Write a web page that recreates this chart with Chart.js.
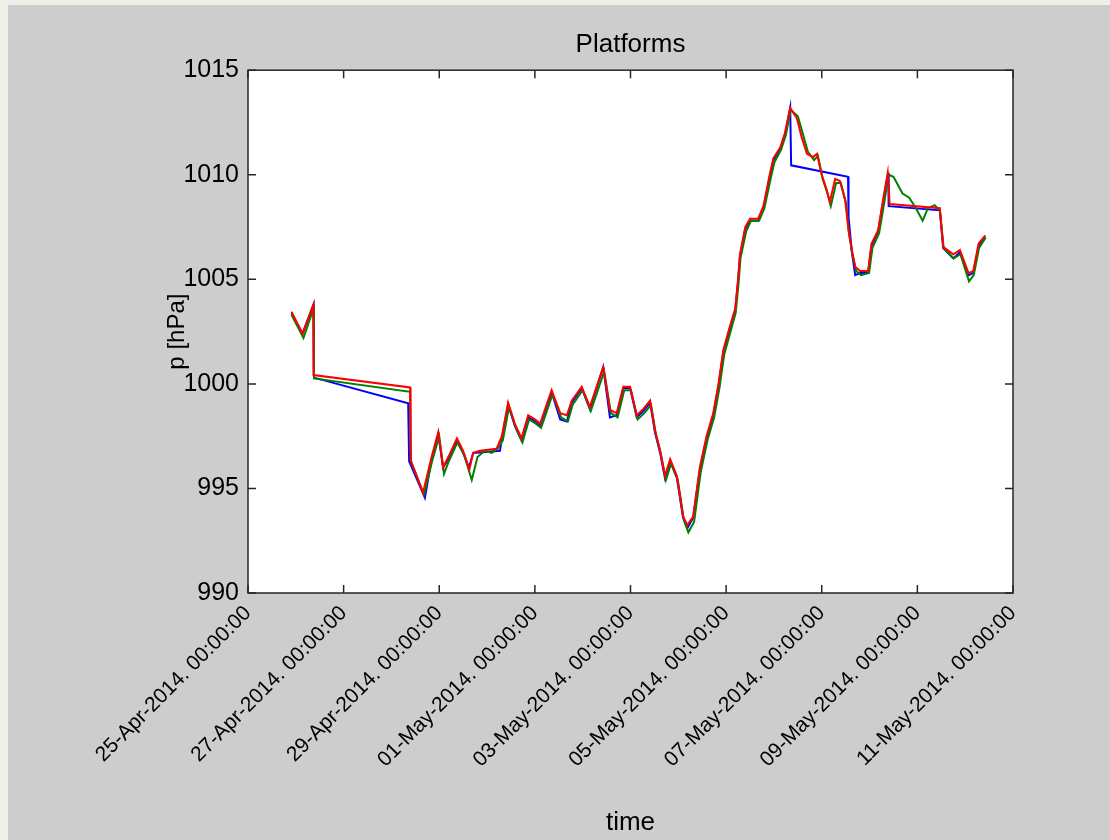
<!DOCTYPE html>
<html>
<head>
<meta charset="utf-8">
<title>Platforms</title>
<script src="https://cdn.jsdelivr.net/npm/chart.js@4.4.1/dist/chart.umd.min.js"></script>
<style>
  html, body { margin: 0; padding: 0; background: #eff1e9; }
  #wrap { position: absolute; left: 8px; top: 5px; width: 1102px; height: 835px; background: #cdcdcd; }
  canvas { display: block; }
</style>
</head>
<body>
<div id="wrap"><canvas id="pressure" width="1102" height="835"></canvas></div>
<script>
// time in days since 25-Apr-2014 00:00:00, pressure in hPa
const blueTime = [0.91,1.14,1.37,1.38,3.35,3.37,3.70,3.84,3.98,4.08,4.19,4.37,4.50,4.62,4.71,5.27,5.31,5.44,5.58,5.72,5.86,6.00,6.11,6.35,6.53,6.67,6.77,6.98,7.15,7.43,7.57,7.71,7.85,7.99,8.13,8.27,8.41,8.51,8.62,8.72,8.83,8.97,9.10,9.19,9.31,9.45,9.59,9.73,9.84,9.94,10.06,10.19,10.25,10.29,10.40,10.50,10.67,10.78,10.92,10.99,11.13,11.23,11.34,11.36,12.55,12.56,12.63,12.70,12.80,12.97,13.04,13.18,13.29,13.39,13.40,14.47,14.54,14.75,14.89,15.07,15.17,15.28,15.42];
const blueP = [1003.4,1002.4,1003.8,1000.3,999.07,996.3,994.55,996.4,997.6,996.0,996.4,997.3,996.7,996.0,996.7,996.8,997.4,999.0,998.0,997.3,998.4,998.2,998.0,999.6,998.3,998.2,999.1,999.8,998.8,1000.8,998.4,998.5,999.8,999.8,998.4,998.7,999.1,997.7,996.7,995.5,996.3,995.5,993.6,993.1,993.6,995.9,997.4,998.5,999.9,1001.5,1002.5,1003.5,1004.9,1006.1,1007.4,1007.8,1007.8,1008.4,1010.0,1010.7,1011.2,1011.9,1013.2,1010.45,1009.9,1008.0,1006.3,1005.2,1005.3,1005.3,1006.6,1007.3,1008.8,1010.1,1008.5,1008.3,1006.5,1006.0,1006.3,1005.2,1005.3,1006.6,1007.0];

const greenTime = [0.91,1.16,1.37,1.38,3.39,3.41,3.68,3.85,4.00,4.10,4.20,4.38,4.52,4.68,4.80,4.95,5.10,5.22,5.33,5.46,5.60,5.74,5.88,6.02,6.13,6.37,6.55,6.69,6.79,7.00,7.17,7.45,7.59,7.73,7.87,8.01,8.15,8.29,8.43,8.53,8.64,8.74,8.85,8.99,9.12,9.21,9.33,9.47,9.61,9.75,9.86,9.96,10.08,10.20,10.26,10.30,10.42,10.52,10.69,10.80,10.94,11.01,11.15,11.25,11.35,11.50,11.60,11.71,11.84,11.92,12.02,12.12,12.19,12.30,12.40,12.51,12.57,12.64,12.72,12.82,12.99,13.06,13.20,13.31,13.40,13.50,13.69,13.83,13.97,14.11,14.22,14.36,14.47,14.55,14.76,14.90,15.08,15.18,15.29,15.43];
const greenP = [1003.3,1002.2,1003.6,1000.26,999.62,996.3,994.7,996.3,997.5,995.7,996.3,997.2,996.6,995.4,996.5,996.8,996.7,996.9,997.3,998.9,997.9,997.2,998.3,998.1,997.9,999.5,998.4,998.2,999.0,999.7,998.7,1000.6,998.6,998.4,999.7,999.7,998.3,998.6,999.0,997.6,996.6,995.4,996.2,995.4,993.45,992.9,993.4,995.8,997.3,998.4,999.8,1001.4,1002.4,1003.4,1004.8,1006.0,1007.3,1007.8,1007.8,1008.4,1009.9,1010.6,1011.2,1011.9,1013.1,1012.8,1012.0,1011.1,1010.7,1010.9,1009.8,1009.1,1008.5,1009.6,1009.6,1008.6,1007.2,1006.2,1005.4,1005.2,1005.3,1006.5,1007.2,1008.7,1010.0,1009.9,1009.1,1008.9,1008.4,1007.8,1008.4,1008.55,1008.3,1006.5,1006.0,1006.2,1004.9,1005.2,1006.5,1007.0];

const redTime = [0.91,1.14,1.37,1.37,3.39,3.40,3.66,3.84,3.98,4.08,4.19,4.37,4.50,4.63,4.71,4.85,5.20,5.31,5.44,5.58,5.72,5.86,6.00,6.11,6.35,6.53,6.67,6.77,6.98,7.15,7.43,7.57,7.71,7.85,7.99,8.13,8.27,8.41,8.51,8.62,8.72,8.83,8.97,9.10,9.19,9.31,9.45,9.59,9.73,9.84,9.94,10.06,10.19,10.25,10.29,10.40,10.50,10.67,10.78,10.92,10.99,11.13,11.23,11.34,11.48,11.58,11.69,11.82,11.90,12.00,12.10,12.17,12.28,12.38,12.49,12.56,12.63,12.70,12.80,12.97,13.04,13.18,13.29,13.38,13.42,14.47,14.54,14.75,14.89,15.07,15.17,15.28,15.42];
const redP = [1003.45,1002.4,1003.8,1000.42,999.83,996.36,994.8,996.5,997.7,996.0,996.5,997.4,996.8,995.9,996.7,996.8,996.9,997.5,999.1,998.1,997.4,998.5,998.3,998.1,999.7,998.6,998.5,999.2,999.86,998.9,1000.8,998.75,998.6,999.86,999.86,998.5,998.8,999.2,997.8,996.8,995.6,996.4,995.6,993.65,993.25,993.65,996.0,997.5,998.6,1000.0,1001.6,1002.6,1003.6,1005.0,1006.2,1007.5,1007.9,1007.9,1008.5,1010.1,1010.8,1011.3,1012.0,1013.2,1012.7,1011.8,1011.0,1010.85,1011.0,1010.0,1009.3,1008.7,1009.8,1009.7,1008.8,1007.35,1006.4,1005.6,1005.4,1005.4,1006.7,1007.35,1008.9,1010.1,1008.6,1008.4,1006.55,1006.2,1006.4,1005.3,1005.4,1006.7,1007.1];

// one label every second day, starting at day 0
const timeTickLabels = [
  '25-Apr-2014. 00:00:00', '27-Apr-2014. 00:00:00', '29-Apr-2014. 00:00:00',
  '01-May-2014. 00:00:00', '03-May-2014. 00:00:00', '05-May-2014. 00:00:00',
  '07-May-2014. 00:00:00', '09-May-2014. 00:00:00', '11-May-2014. 00:00:00'
];

const toPoints = (t, p) => t.map((v, i) => ({ x: v, y: p[i] }));

// white axes box with inward ticks on all four sides
const boxAxes = {
  id: 'boxAxes',
  beforeDraw(chart) {
    const { ctx, chartArea: a } = chart;
    ctx.save();
    ctx.fillStyle = '#ffffff';
    ctx.fillRect(a.left, a.top, a.width, a.height);
    ctx.restore();
  },
  afterDraw(chart) {
    const { ctx, chartArea: a, scales } = chart;
    const len = 8;
    ctx.save();
    ctx.strokeStyle = '#262626';
    ctx.lineWidth = 1.5;
    ctx.beginPath();
    scales.x.ticks.forEach(t => {
      const px = scales.x.getPixelForValue(t.value);
      ctx.moveTo(px, a.bottom); ctx.lineTo(px, a.bottom - len);
      ctx.moveTo(px, a.top); ctx.lineTo(px, a.top + len);
    });
    scales.y.ticks.forEach(t => {
      const py = scales.y.getPixelForValue(t.value);
      ctx.moveTo(a.left, py); ctx.lineTo(a.left + len, py);
      ctx.moveTo(a.right, py); ctx.lineTo(a.right - len, py);
    });
    ctx.stroke();
    ctx.strokeRect(a.left, a.top, a.width, a.height);
    ctx.restore();
  }
};

const font = 'Liberation Sans, Arial, sans-serif';

new Chart(document.getElementById('pressure'), {
  type: 'line',
  data: {
    datasets: [
      { data: toPoints(blueTime, blueP), borderColor: '#0000ff', order: 3 },
      { data: toPoints(greenTime, greenP), borderColor: '#008000', order: 2 },
      { data: toPoints(redTime, redP), borderColor: '#ff0000', order: 1 }
    ]
  },
  options: {
    responsive: false,
    animation: false,
    devicePixelRatio: 1,
    layout: { padding: { left: 0, right: 97, top: 0, bottom: 0 } },
    elements: {
      line: { borderWidth: 2, tension: 0 },
      point: { radius: 0 }
    },
    plugins: {
      legend: { display: false },
      tooltip: { enabled: false },
      title: {
        display: true,
        text: 'Platforms',
        color: '#000',
        fullSize: false,
        font: { family: font, size: 26, weight: 'normal' },
        padding: { top: 24, bottom: 10 }
      }
    },
    scales: {
      x: {
        type: 'linear',
        min: 0,
        max: 16,
        grid: { drawOnChartArea: false, drawTicks: false },
        border: { display: false },
        ticks: {
          stepSize: 2,
          autoSkip: false,
          minRotation: 45,
          maxRotation: 45,
          padding: 8,
          color: '#000',
          font: { family: font, size: 21 },
          callback: v => timeTickLabels[Math.round(v / 2)]
        },
        title: {
          display: true,
          text: 'time',
          color: '#000',
          font: { family: font, size: 26 },
          padding: { top: 0, bottom: 2 }
        },
        afterFit: s => { s.height = 247; }
      },
      y: {
        min: 990,
        max: 1015,
        grid: { drawOnChartArea: false, drawTicks: false },
        border: { display: false },
        ticks: {
          stepSize: 5,
          padding: 9,
          color: '#000',
          font: { family: font, size: 25 },
          callback: v => String(v)
        },
        title: {
          display: true,
          text: 'p [hPa]',
          color: '#000',
          font: { family: font, size: 24 },
          padding: { top: 155, bottom: 0 }
        },
        afterFit: s => { s.width = 240; }
      }
    }
  },
  plugins: [boxAxes]
});
</script>
</body>
</html>
